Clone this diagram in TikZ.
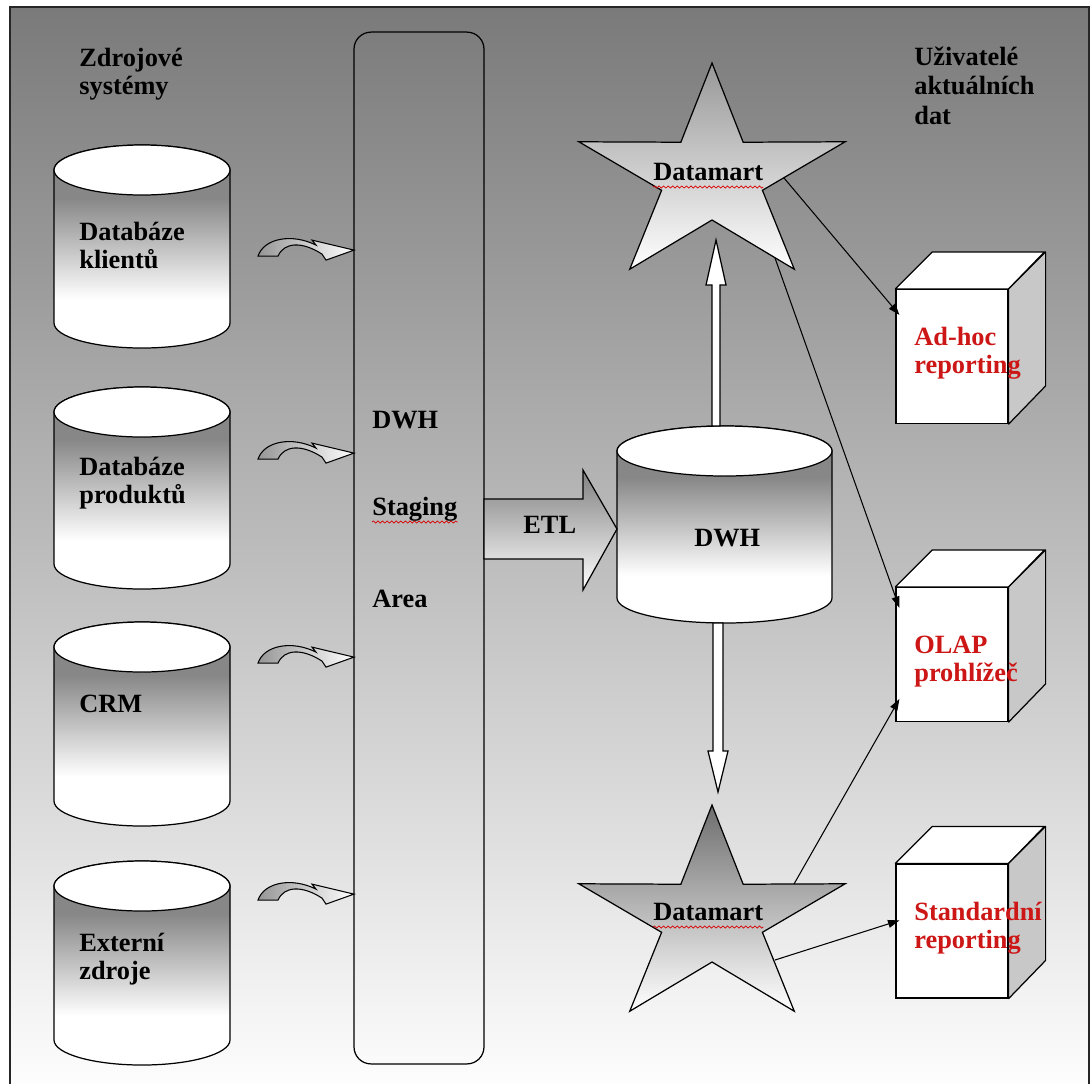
\documentclass[tikz,border=0pt]{standalone}
\usepackage{fontspec}
\setmainfont{Liberation Serif}
\usetikzlibrary{calc,arrows.meta,decorations.pathmorphing}
\definecolor{bgtop}{RGB}{122,122,122}
\definecolor{cylgray}{RGB}{135,135,135}
\definecolor{redtxt}{RGB}{205,22,22}
\definecolor{sidegray}{RGB}{200,200,200}
\definecolor{startopA}{RGB}{152,152,152}
\definecolor{startopB}{RGB}{110,110,110}
\definecolor{etltop}{RGB}{128,128,128}
\definecolor{arrgray}{RGB}{150,150,150}
\pgfdeclareverticalshading{cylsh}{100bp}{color(0bp)=(white); color(37bp)=(white); color(62bp)=(cylgray); color(100bp)=(cylgray)}
\newcommand{\twol}[2]{\vtop{\baselineskip=16.4pt\hbox{#1}\hbox{#2}}}
\newcommand{\threel}[3]{\vtop{\baselineskip=16.8pt\hbox{#1}\hbox{#2}\hbox{#3}}}
\newcommand{\dbcyl}[5]{%
  \path[cylbody] (#2-#5,#3) -- (#2-#5,#4) arc[start angle=180,end angle=0,x radius=#5,y radius=25] -- (#2+#5,#3) arc[start angle=0,end angle=-180,x radius=#5,y radius=25] -- cycle;
  \draw[outline, fill=white] (#2,#3) ellipse [x radius=#5, y radius=25];
  \node[inner sep=0, outer sep=0, minimum width={2*#5*0.02cm}, minimum height={(#4-#3+50)*0.02cm}] (#1) at (#2,{(#3+#4)/2}) {};
}
\tikzset{
  curvarr/.pic={\draw[line width=0.6pt, left color=arrgray, right color=white]
    (-96,6) .. controls (-90,-12) and (-62,-17) .. (-38,-5) -- (-42,-10) -- (0,0) -- (-28,10) -- (-32,4)
    .. controls (-52,-9) and (-70,-8) .. (-76,6) -- cycle;}
}
\begin{document}
\begin{tikzpicture}[x=0.02cm,y=-0.02cm,
  txt/.style={anchor=base west, inner sep=0, font=\bfseries\fontsize{15pt}{16.4pt}\selectfont},
  redlabel/.style={txt, text=redtxt},
  outline/.style={draw=black, line width=0.7pt},
  cylbody/.style={outline, shade, shading=cylsh},
  conn/.style={draw=black, line width=0.6pt, -{Triangle[length=6.5pt,width=4.5pt]}},
  blockarr/.style={outline, fill=white},
  wavy/.style={draw=red!85!black, line width=0.4pt, decorate, decoration={snake, amplitude=0.6pt, segment length=2.6pt}},
  cubeface/.style={outline, fill=white, inner sep=0, minimum width=2.24cm, minimum height=2.68cm},
  starshape/.style={outline, line join=miter}
]
\useasboundingbox (0,0) rectangle (1091,1083);
\clip (0,0) rectangle (1091,1083);
\fill[white] (0,0) rectangle (1091,1083);
\draw[line width=0.7pt, draw=black!85, top color=bgtop, bottom color=white] (10,7) rectangle (1089,1100);

% headers
\node[txt] (hdrsrc) at (79,66) {\twol{Zdrojové}{systémy}};
\node[txt] (hdrusr) at (914,65) {\threel{Uživatelé}{aktuálních}{dat}};

% source cylinders
\dbcyl{cyl1}{142}{170}{323}{88}
\dbcyl{cyl2}{142}{412}{564}{88}
\dbcyl{cyl3}{142}{647}{801}{88}
\dbcyl{cyl4}{142}{886}{1040}{88}
\node[txt] (l1) at (79,240) {\twol{Databáze}{klientů}};
\node[txt] (l2) at (79,475) {\twol{Databáze}{produktů}};
\node[txt] (l3) at (79,712) {CRM};
\node[txt] (l4) at (79,951) {\twol{Externí}{zdroje}};

% staging area
\node[outline, rounded corners=0.34cm, minimum width=2.6cm, minimum height=20.64cm, inner sep=0, outer sep=0] (stg) at (419,548) {};
\node[txt] (sdwh) at (372,428) {DWH};
\node[txt] (sstg) at (372,515) {Staging};
\node[txt] (sarea) at (372,607) {Area};
\draw[wavy] ($(sstg.base west)+(0,7)$) -- ($(sstg.base east)+(0,7)$);

% curved arrows from sources to staging
\coordinate (t1) at ($(stg.north west)+(0,218)$);
\coordinate (t2) at ($(stg.north west)+(0,421)$);
\coordinate (t3) at ($(stg.north west)+(0,625)$);
\coordinate (t4) at ($(stg.north west)+(0,862)$);
\pic at (t1) {curvarr};
\pic at (t2) {curvarr};
\pic at (t3) {curvarr};
\pic at (t4) {curvarr};

% DWH cylinder
\dbcyl{dwh}{724.5}{451}{598}{107.5}
\node[txt] (dwhl) at (694,546) {DWH};

% ETL arrow
\draw[outline, top color=etltop, bottom color=white] ($(stg.east)+(0,-49)$) -- ++(99,0) -- ++(0,-29) -- ($(dwh.west)+(0,4.5)$) -- ++(-34,61) -- ++(0,-31) -- ++(-99,0) -- cycle;
\node[txt] (etl) at (523,533) {ETL};

% stars
\coordinate (star1) at (712,177);
\coordinate (star2) at (712,919);
\path[starshape, top color=startopA, bottom color=white, shift={(star1)}]
  (-90:140 and 114) -- (-126:53 and 43) -- (-162:140 and 114) -- (-198:53 and 43) -- (-234:140 and 114) -- (-270:53 and 43) -- (-306:140 and 114) -- (-342:53 and 43) -- (-18:140 and 114) -- (-54:53 and 43) -- cycle;
\path[starshape, top color=startopB, bottom color=white, shift={(star2)}]
  (-90:140 and 114) -- (-126:53 and 43) -- (-162:140 and 114) -- (-198:53 and 43) -- (-234:140 and 114) -- (-270:53 and 43) -- (-306:140 and 114) -- (-342:53 and 43) -- (-18:140 and 114) -- (-54:53 and 43) -- cycle;
\node[txt] (dm1) at (653,180) {Datamart};
\node[txt] (dm2) at (653,920) {Datamart};
\draw[wavy] ($(dm1.base west)+(0,7)$) -- ($(dm1.base east)+(0,7)$);
\draw[wavy] ($(dm2.base west)+(0,7)$) -- ($(dm2.base east)+(0,7)$);

% hollow block arrows DWH <-> datamarts
\draw[blockarr] ($(dwh.north)+(-12.5,0)$) -- ++(0,-141) -- ++(-6,0) -- ++(10,-45) -- ++(10,45) -- ++(-6,0) -- ++(0,141) -- cycle;
\draw[blockarr] ($(dwh.south)+(-11.5,0)$) -- ++(0,128) -- ++(-5,0) -- ++(10,41) -- ++(10,-41) -- ++(-5,0) -- ++(0,-128) -- cycle;

% cubes
\node[cubeface] (adhoc) at (952,356.5) {};
\node[cubeface] (olap) at (952,654.5) {};
\node[cubeface] (std) at (952,931) {};
\foreach \c in {adhoc,olap,std}{
  \draw[outline, fill=white, line join=round] (\c.north west) -- ++(37,-37) -- ++(112,0) -- (\c.north east) -- cycle;
  \draw[outline, fill=sidegray, line join=round] (\c.north east) -- ++(37,-37) -- ++(0,134) -- (\c.south east) -- cycle;
}
\node[redlabel] (lah) at (914,345) {\twol{Ad-hoc}{reporting}};
\node[redlabel] (lol) at (914,653) {\twol{OLAP}{prohlížeč}};
\node[redlabel] (lst) at (914,920) {\twol{Standardní}{reporting}};

% connectors from datamarts to tools
\coordinate (s1a) at ($(star1)+(72,1)$);
\coordinate (s1b) at ($(star1)+(63,81)$);
\coordinate (s2a) at ($(star2)+(82,-35)$);
\coordinate (s2b) at ($(star2)+(63,41)$);
\draw[conn] (s1a) -- ($(adhoc.north west)+(4,26)$);
\draw[conn] (s1b) -- ($(olap.north west)+(4,21)$);
\draw[conn] (s2a) -- ($(olap.north west)+(4,112)$);
\draw[conn] (s2b) -- ($(std.north west)+(4,57)$);
\end{tikzpicture}
\end{document}
